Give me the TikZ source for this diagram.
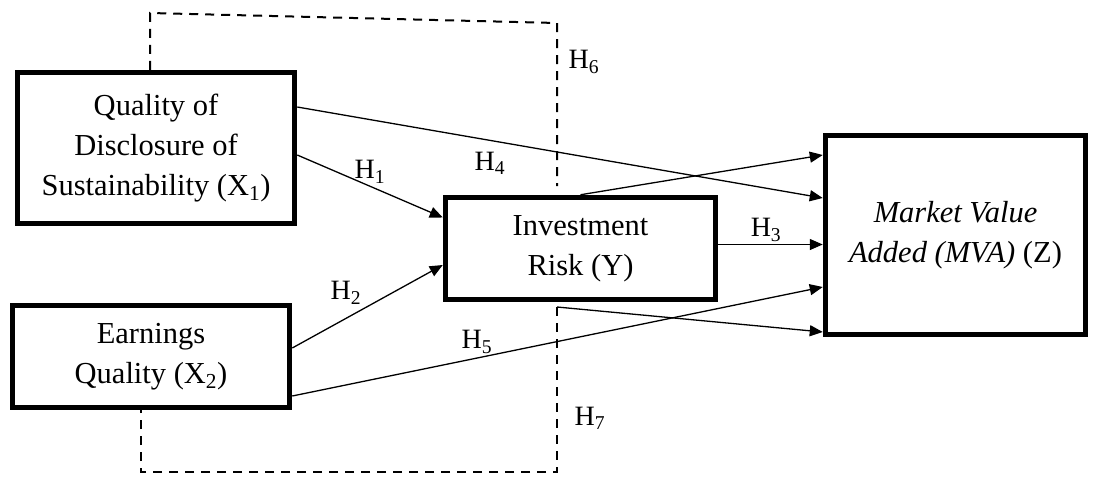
\documentclass[tikz,border=0pt]{standalone}
\usepackage{fontspec}
\setmainfont{Liberation Serif}
\usetikzlibrary{arrows.meta}

\begin{document}
\begin{tikzpicture}[x=1pt,y=-1pt,
  varbox/.style={draw, line width=5.5pt, align=center, inner sep=0pt, font=\fontsize{30.5}{40}\selectfont},
  effect/.style={line width=1.3pt, -{Triangle[length=13pt,width=11pt]}},
  hyp/.style={inner sep=0pt, font=\fontsize{28}{30}\selectfont},
  mediate/.style={line width=2pt, dash pattern=on 9pt off 7pt}]
\useasboundingbox (0,0) rectangle (1094,477);
% variables
\node[varbox, minimum width=277pt, minimum height=151pt] (x1) at (156,148) {Quality of\\Disclosure of\\Sustainability (X\textsubscript{1})};
\node[varbox, minimum width=277pt, minimum height=102pt] (x2) at (151,356.5) {Earnings\\Quality (X\textsubscript{2})};
\node[varbox, minimum width=270pt, minimum height=102pt] (y) at (580.5,248.5) {Investment\\Risk (Y)};
\node[varbox, minimum width=260pt, minimum height=199pt] (z) at (955.5,235) {\textit{Market Value}\\\textit{Added (MVA)} (Z)};
% mediation brackets
\coordinate (m6) at (557,186);
\coordinate (m7) at (557,307);
\draw[mediate] ([xshift=-6pt]x1.north) -- (150,13) -- (557,23) -- (m6);
\draw[mediate] (m7) -- (557,472) -- (141,472) -- ([xshift=-10pt]x2.south);
% direct effects
\draw[effect] ([yshift=-7pt]x1.east) -- ([yshift=31pt]y.west);
\draw[effect] ([yshift=8.5pt]x2.east) -- ([yshift=-16.5pt]y.west);
\draw[effect] ([yshift=4pt]y.east) -- ([yshift=4pt]y.east -| z.west);
\draw[effect] ([yshift=41pt]x1.east) -- ([yshift=37pt]z.west);
\draw[effect] ([yshift=-39.5pt]x2.east) -- ([yshift=-52pt]z.west);
\draw[effect] (y.north) -- ([yshift=80pt]z.west);
\draw[effect] (m7) -- ([yshift=-97pt]z.west);
% hypotheses
\node[hyp] (h1) at (370,172) {H\textsubscript{1}};
\node[hyp] (h2) at (346,293) {H\textsubscript{2}};
\node[hyp] (h3) at (766,230) {H\textsubscript{3}};
\node[hyp] (h4) at (490,163) {H\textsubscript{4}};
\node[hyp] (h5) at (477,342) {H\textsubscript{5}};
\node[hyp] (h6) at (584,62) {H\textsubscript{6}};
\node[hyp] (h7) at (590,418) {H\textsubscript{7}};
\end{tikzpicture}
\end{document}
